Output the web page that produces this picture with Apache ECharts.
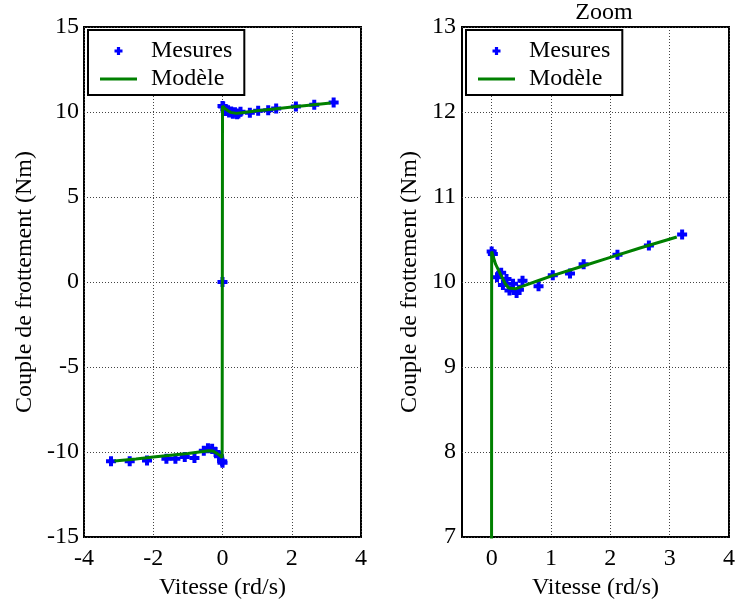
<!DOCTYPE html>
<html><head><meta charset="utf-8">
<script src="https://cdn.jsdelivr.net/npm/echarts@6/dist/echarts.min.js"></script>
<style>html,body{margin:0;padding:0;background:#fff}#c{width:738px;height:605px}</style>
</head><body><div id="c"></div>
<script>
// Measurements (speed rd/s, friction torque Nm)
const measV = [-3.22, -2.68, -2.18, -1.62, -1.36, -1.09, -0.81, -0.54, -0.42, -0.30, -0.20, -0.10, -0.01, 0.0,
  0.0,
  0.0, 0.02, 0.09, 0.16, 0.19, 0.25, 0.30, 0.36, 0.42, 0.46, 0.52, 0.79, 1.03, 1.32, 1.55, 2.12, 2.65, 3.21];
const measT = [-10.54, -10.54, -10.49, -10.39, -10.39, -10.29, -10.35, -9.92, -9.77, -9.80, -10.0, -10.25, -10.54, -10.62,
  0.0,
  10.36, 10.33, 10.055, 10.11, 9.965, 10.035, 9.90, 9.98, 9.87, 9.91, 10.015, 9.95, 10.08, 10.10, 10.21, 10.32, 10.43, 10.56];
// Model curve
const modelV = [-3.12, -2.5, -2.0, -1.5, -1.0, -0.78, -0.56, -0.40, -0.285, -0.23, -0.15, -0.066, -0.01, 0, 0,
  0.01, 0.066, 0.15, 0.23, 0.285, 0.40, 0.56, 0.78, 1.0, 1.5, 2.0, 2.5, 3.12];
const modelT = [-10.53, -10.40, -10.29, -10.18, -10.08, -10.02, -9.96, -9.92, -9.93, -9.98, -10.09, -10.21, -10.34, -10.36, 10.36,
  10.34, 10.21, 10.09, 9.98, 9.93, 9.92, 9.96, 10.015, 10.07, 10.18, 10.29, 10.40, 10.53];
// Tick labels
const leftXTicks = [-4, -2, 0, 2, 4];
const leftYTicks = [-15, -10, -5, 0, 5, 10, 15];
const rightXTicks = [0, 1, 2, 3, 4];
const rightXRange = [-0.5, 4];
const rightYTicks = [7, 8, 9, 10, 11, 12, 13];

const FONT = 'Liberation Serif';
const plus = 'path://M3,0H7V3H10V7H7V10H3V7H0V3H3Z';
const lineIcon = 'path://M0,0H40V3H0Z';
const meas = measV.map((v, i) => [v, measT[i]]);
const model = modelV.map((v, i) => [v, modelT[i]]);

const txt = { fontFamily: FONT, fontSize: 24, color: '#000' };
const split = { show: true, lineStyle: { color: '#444', type: [1, 2], width: 1 } };

function xAx(gi, min, max, ticks, name) {
  return {
    type: 'value', gridIndex: gi, min, max, interval: ticks[1] - ticks[0],
    axisLine: { show: false }, axisTick: { show: false, customValues: ticks },
    axisLabel: Object.assign({ margin: 10, customValues: ticks }, txt),
    splitLine: split,
    name, nameLocation: 'middle', nameGap: 36, nameTextStyle: txt
  };
}
function yAx(gi, ticks, name, gap, margin) {
  return {
    type: 'value', gridIndex: gi, min: ticks[0], max: ticks[ticks.length - 1], interval: ticks[1] - ticks[0],
    axisLine: { show: false }, axisTick: { show: false },
    axisLabel: Object.assign({ margin }, txt),
    splitLine: split,
    name, nameLocation: 'middle', nameGap: gap, nameTextStyle: txt
  };
}
function legend(left) {
  return {
    left, top: 30, orient: 'vertical',
    data: [{ name: 'Mesures', icon: plus }, { name: 'Modèle', icon: lineIcon }],
    itemWidth: 37, itemHeight: 8, itemGap: 4,
    padding: [9, 12, 4, 12],
    borderColor: '#000', borderWidth: 2, backgroundColor: '#fff',
    textStyle: Object.assign({ padding: [0, 0, 0, 9] }, txt)
  };
}

const chart = echarts.init(document.getElementById('c'));
chart.setOption({
  animation: false,
  backgroundColor: '#fff',
  title: { text: 'Zoom', left: 599, textAlign: 'center', top: -4, textStyle: Object.assign({ fontWeight: 'normal' }, txt) },
  grid: [
    { left: 84, top: 27, width: 277, height: 513, show: true, borderColor: '#000', borderWidth: 2, backgroundColor: '#fff' },
    { left: 462, top: 27, width: 274, height: 513, show: true, borderColor: '#000', borderWidth: 2, backgroundColor: '#fff' }
  ],
  xAxis: [
    xAx(0, leftXTicks[0], leftXTicks[leftXTicks.length - 1], leftXTicks, 'Vitesse (rd/s)'),
    xAx(1, rightXRange[0], rightXRange[1], rightXTicks, 'Vitesse (rd/s)')
  ],
  yAxis: [
    yAx(0, leftYTicks, 'Couple de frottement (Nm)', 47, 5),
    yAx(1, rightYTicks, 'Couple de frottement (Nm)', 40, 6)
  ],
  legend: [legend(88), legend(466)],
  series: [
    { name: 'Mesures', type: 'scatter', xAxisIndex: 0, yAxisIndex: 0, data: meas, symbol: plus, symbolSize: 10, itemStyle: { color: '#0000ff', opacity: 1 } },
    { name: 'Modèle', type: 'line', xAxisIndex: 0, yAxisIndex: 0, data: model, symbol: 'none', showSymbol: false, lineStyle: { color: '#008000', width: 3 }, itemStyle: { color: '#008000' } },
    { name: 'Mesures', type: 'scatter', xAxisIndex: 1, yAxisIndex: 1, data: meas, symbol: plus, symbolSize: 10, itemStyle: { color: '#0000ff', opacity: 1 } },
    { name: 'Modèle', type: 'line', xAxisIndex: 1, yAxisIndex: 1, data: model, symbol: 'none', showSymbol: false, clip: true, lineStyle: { color: '#008000', width: 3 }, itemStyle: { color: '#008000' } }
  ]
});
</script></body></html>
